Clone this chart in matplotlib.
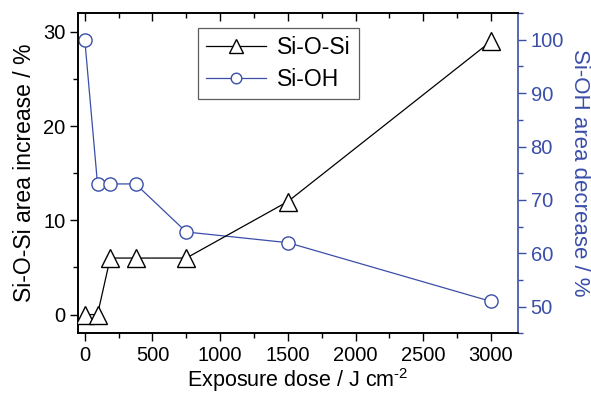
import matplotlib
matplotlib.use("Agg")
import matplotlib.pyplot as plt
from matplotlib.ticker import MultipleLocator

plt.rcParams['font.family'] = ['Liberation Sans', 'DejaVu Sans']
plt.rcParams['mathtext.fontset'] = 'custom'
plt.rcParams['mathtext.rm'] = 'Liberation Sans'
plt.rcParams['mathtext.it'] = 'Liberation Sans'
plt.rcParams['mathtext.bf'] = 'Liberation Sans:bold'

dose = [0, 94, 188, 375, 750, 1500, 3000]
siosi = [0, 0, 6, 6, 6, 12, 29]
sioh = [100, 73, 73, 73, 64, 62, 51]

blue = '#3a4ea8'

fig = plt.figure(figsize=(5.91, 3.96), dpi=100)
ax = fig.add_axes([0.132, 0.158, 0.7445, 0.809])
ax2 = ax.twinx()

l1, = ax.plot(dose, siosi, color='black', lw=0.9, marker='^', ms=12.5,
              mfc='white', mec='black', mew=1.0, label='Si-O-Si', zorder=3)
l2, = ax2.plot(dose, sioh, color=blue, lw=0.9, marker='o', ms=9.5,
               mfc='white', mec=blue, mew=1.0, label='Si-OH', zorder=3)

ax.set_xlim(-50, 3200)
ax.set_ylim(-2, 32)
ax2.set_ylim(45, 105)

ax.xaxis.set_major_locator(MultipleLocator(500))
ax.xaxis.set_minor_locator(MultipleLocator(250))
ax.yaxis.set_major_locator(MultipleLocator(10))
ax.yaxis.set_minor_locator(MultipleLocator(5))
ax2.yaxis.set_major_locator(MultipleLocator(10))
ax2.yaxis.set_minor_locator(MultipleLocator(5))

ax.tick_params(axis='x', which='major', direction='out', length=6, width=1,
               labelsize=14.5, top=True, pad=3)
ax.tick_params(axis='x', which='minor', direction='out', length=3.5, width=1, top=True)
ax.tick_params(axis='y', which='major', direction='out', length=6, width=1,
               labelsize=14.5, pad=3)
ax.tick_params(axis='y', which='minor', direction='out', length=3.5, width=1)
ax2.tick_params(axis='y', which='major', direction='out', length=6, width=1,
                labelsize=14.5, colors=blue, pad=3)
ax2.tick_params(axis='y', which='minor', direction='out', length=3.5, width=1, colors=blue)

# top ticks pointing inward
for t in ax.xaxis.get_major_ticks() + ax.xaxis.get_minor_ticks():
    t.tick2line.set_marker(3)

for s in ['left', 'bottom', 'top']:
    ax.spines[s].set_linewidth(1.2)
ax2.spines['right'].set_color(blue)
for s in ['left', 'bottom', 'top', 'right']:
    ax2.spines[s].set_linewidth(1.2)
ax.spines['right'].set_visible(False)

ax.set_xlabel(r'Exposure dose / J cm$^{\text{-2}}$', fontsize=15.5, labelpad=1)
ax.set_ylabel('Si-O-Si area increase / %', fontsize=16.5, labelpad=5)
ax2.set_ylabel('Si-OH area decrease / %', fontsize=16, color=blue,
               rotation=270, labelpad=19)

leg = ax.legend([l1, l2], ['Si-O-Si', 'Si-OH'], loc='upper left',
                bbox_to_anchor=(0.273, 0.953), fontsize=16.5, handlelength=2.6,
                frameon=True, fancybox=False, edgecolor='#333333',
                borderpad=0.35, labelspacing=0.4, handletextpad=0.5,
                borderaxespad=0, markerscale=0.8)
leg.get_frame().set_linewidth(0.9)
ax.set_zorder(ax2.get_zorder() + 1)
ax.patch.set_visible(False)

fig.savefig('out.png', dpi=100)
